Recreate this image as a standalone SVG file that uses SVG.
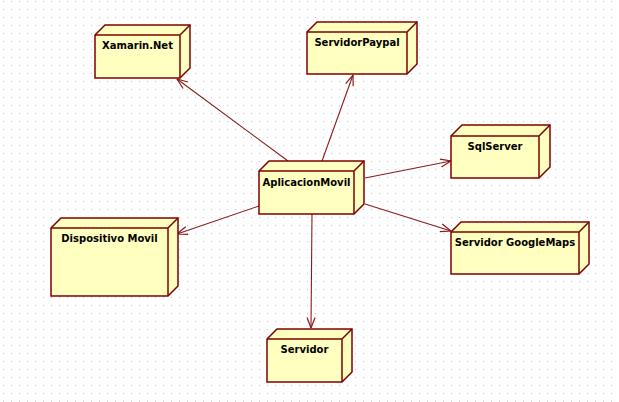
<svg xmlns="http://www.w3.org/2000/svg" width="619" height="402" viewBox="0 0 619 402">
<defs>
<pattern id="grid" x="3" y="1" width="8" height="8" patternUnits="userSpaceOnUse">
<rect x="0" y="0" width="1" height="1" fill="#c4c4c4"/>
</pattern>
<marker id="open" viewBox="0 0 12 10" refX="11.5" refY="5" markerWidth="12" markerHeight="10" markerUnits="userSpaceOnUse" orient="auto">
<path d="M1,1 L11.5,5 L1,9" fill="none" stroke="#8b1a1a" stroke-width="1.2"/>
</marker>
</defs>
<style>
.face{fill:#ffffc0;stroke:#800000;stroke-width:1.5;stroke-linejoin:miter}
.edge{fill:none;stroke:#800000;stroke-width:1.5}
.lbl{font-family:"DejaVu Sans",Verdana,sans-serif;font-weight:bold;font-size:10px;fill:#000;text-anchor:middle}
.conn{fill:none;stroke:#8b1a1a;stroke-width:1.1;marker-end:url(#open)}
</style>
<rect width="619" height="402" fill="#fff"/>
<rect width="619" height="402" fill="url(#grid)"/>
<g id="connectors">
<line class="conn" x1="288" y1="161" x2="177" y2="79"/>
<line class="conn" x1="322" y1="161" x2="353" y2="75"/>
<line class="conn" x1="365" y1="178" x2="451" y2="161"/>
<line class="conn" x1="259" y1="206" x2="177" y2="234"/>
<line class="conn" x1="365" y1="204" x2="451" y2="231"/>
<line class="conn" x1="312" y1="214" x2="311" y2="328"/>
</g>
<g id="xamarin">
<path class="face" d="M95,35 L105,25 L190,25 L190,68 L180,78 L95,78 Z"/>
<path class="edge" d="M95,35 L180,35 L180,78 M180,35 L190,25"/>
<text class="lbl" x="137.5" y="49">Xamarin.Net</text>
</g>
<g id="paypal">
<path class="face" d="M307,32 L317,22 L417,22 L417,64 L407,74 L307,74 Z"/>
<path class="edge" d="M307,32 L407,32 L407,74 M407,32 L417,22"/>
<text class="lbl" x="357" y="46">ServidorPaypal</text>
</g>
<g id="sqlserver">
<path class="face" d="M451,136 L462,125 L550,125 L550,167 L539,178 L451,178 Z"/>
<path class="edge" d="M451,136 L539,136 L539,178 M539,136 L550,125"/>
<text class="lbl" x="495" y="150">SqlServer</text>
</g>
<g id="aplicacion">
<path class="face" d="M259,171 L269,161 L364,161 L364,204 L354,214 L259,214 Z"/>
<path class="edge" d="M259,171 L354,171 L354,214 M354,171 L364,161"/>
<text class="lbl" x="306.5" y="186">AplicacionMovil</text>
</g>
<g id="dispositivo">
<path class="face" d="M51,228 L61,218 L178,218 L178,286 L168,296 L51,296 Z"/>
<path class="edge" d="M51,228 L168,228 L168,296 M168,228 L178,218"/>
<text class="lbl" x="109.5" y="242">Dispositivo Movil</text>
</g>
<g id="googlemaps">
<path class="face" d="M451,232 L461,222 L589,222 L589,264 L579,274 L451,274 Z"/>
<path class="edge" d="M451,232 L579,232 L579,274 M579,232 L589,222"/>
<text class="lbl" x="515" y="246">Servidor GoogleMaps</text>
</g>
<g id="servidor">
<path class="face" d="M267,339 L277,329 L352,329 L352,372 L342,382 L267,382 Z"/>
<path class="edge" d="M267,339 L342,339 L342,382 M342,339 L352,329"/>
<text class="lbl" x="304.5" y="353">Servidor</text>
</g>
</svg>
